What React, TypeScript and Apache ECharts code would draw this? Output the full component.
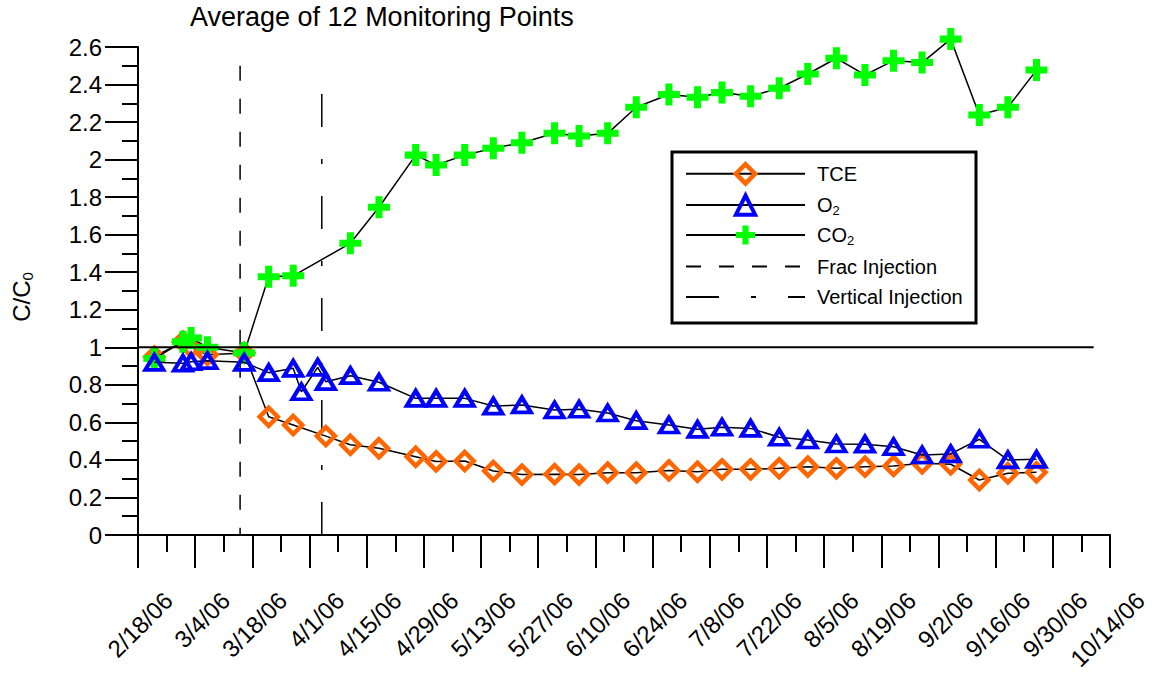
import React, { useEffect, useRef } from "react";
import * as echarts from "echarts";

// ---------- data ----------
const TCE_DATES = ["2/22/06","3/1/06","3/3/06","3/7/06","3/16/06","3/22/06","3/28/06","4/5/06","4/11/06","4/18/06","4/27/06","5/2/06","5/9/06","5/16/06","5/23/06","5/31/06","6/6/06","6/13/06","6/20/06","6/28/06","7/5/06","7/11/06","7/18/06","7/25/06","8/1/06","8/8/06","8/15/06","8/22/06","8/29/06","9/5/06","9/12/06","9/19/06","9/26/06"];
const TCE_VALUES = [0.95,1.03,1.0,0.96,0.97,0.63,0.586,0.527,0.481,0.462,0.417,0.392,0.394,0.341,0.322,0.324,0.322,0.332,0.332,0.344,0.337,0.35,0.35,0.355,0.364,0.355,0.364,0.368,0.382,0.377,0.293,0.329,0.334];

const O2_DATES = ["2/22/06","3/1/06","3/3/06","3/7/06","3/16/06","3/22/06","3/28/06","3/30/06","4/3/06","4/5/06","4/11/06","4/18/06","4/27/06","5/2/06","5/9/06","5/16/06","5/23/06","5/31/06","6/6/06","6/13/06","6/20/06","6/28/06","7/5/06","7/11/06","7/18/06","7/25/06","8/1/06","8/8/06","8/15/06","8/22/06","8/29/06","9/5/06","9/12/06","9/19/06","9/26/06"];
const O2_VALUES = [0.92,0.915,0.923,0.929,0.92,0.865,0.888,0.763,0.893,0.817,0.849,0.814,0.728,0.728,0.728,0.687,0.693,0.666,0.67,0.65,0.609,0.586,0.563,0.574,0.568,0.521,0.506,0.485,0.484,0.47,0.426,0.432,0.51,0.4,0.403];

const CO2_DATES = ["2/22/06","3/1/06","3/3/06","3/7/06","3/16/06","3/22/06","3/28/06","4/11/06","4/18/06","4/27/06","5/2/06","5/9/06","5/16/06","5/23/06","5/31/06","6/6/06","6/13/06","6/20/06","6/28/06","7/5/06","7/11/06","7/18/06","7/25/06","8/1/06","8/8/06","8/15/06","8/22/06","8/29/06","9/5/06","9/12/06","9/19/06","9/26/06"];
const CO2_VALUES = [0.94,1.03,1.05,1.0,0.97,1.376,1.381,1.554,1.746,2.024,1.971,2.024,2.06,2.09,2.14,2.126,2.14,2.279,2.347,2.332,2.357,2.338,2.38,2.456,2.54,2.451,2.527,2.517,2.642,2.238,2.279,2.477];

const FRAC_DATE = "3/15/06";
const FRAC_RANGE = [2.5, 0];
const VERT_DATE = "4/4/06";
const VERT_RANGE = [2.35, 0];
const REF_DATES = ["2/18/06", "10/10/06"];
const REF_VALUE = 1;

const X_START = "2/18/06";
const X_END = "10/14/06";
const X_STEP_DAYS = 14;
const Y_MIN = 0;
const Y_MAX = 2.6;
const Y_STEP = 0.2;

const TITLE = "Average of 12 Monitoring Points";
const LEGEND_NAMES = ["TCE", "O2", "CO2", "Frac Injection", "Vertical Injection"];

// ---------- helpers ----------
const parse = (s: string) => {
  const [m, d, y] = s.split("/").map(Number);
  return Date.UTC(2000 + y, m - 1, d);
};
const BASE = parse(X_START);
const toDay = (s: string) => Math.round((parse(s) - BASE) / 86400000);
const dayLabel = (v: number) => {
  const dt = new Date(BASE + Math.round(v) * 86400000);
  return `${dt.getUTCMonth() + 1}/${dt.getUTCDate()}/${String(dt.getUTCFullYear()).slice(2)}`;
};
const pairs = (dates: string[], vals: number[]) => dates.map((d, i) => [toDay(d), vals[i]]);

const FONT = "'Liberation Sans', Arial, sans-serif";
const PLUS = "path://M6.8,0H13.2V6.8H20V13.2H13.2V20H6.8V13.2H0V6.8H6.8Z";

// legend layout (box and row centres)
const LEGEND_BOX = { x: 672, y: 152, w: 304, h: 171 };
const LEGEND_ROW_Y = [174, 205.5, 237, 268.5, 299];
const LEGEND_ITEM_H = 24;

export default function App() {
  const ref = useRef<HTMLDivElement>(null);
  useEffect(() => {
    if (!ref.current) return;
    const chart = echarts.init(ref.current, null, { renderer: "svg" });
    const blackLine = { color: "#000", width: 1.5 };
    const legendFormatter = (name: string) => {
      if (name === "O2") return "{t|O}{s|2}";
      if (name === "CO2") return "{t|CO}{s|2}";
      return `{t|${name}}`;
    };
    const legends = LEGEND_NAMES.map((name, i) => ({
      data: [name],
      orient: "vertical",
      left: LEGEND_BOX.x + 13,
      top: LEGEND_ROW_Y[i] - LEGEND_ITEM_H / 2,
      itemWidth: 119,
      itemHeight: LEGEND_ITEM_H,
      padding: 0,
      selectedMode: false,
      itemStyle: { borderWidth: "inherit" },
      formatter: legendFormatter,
      textStyle: {
        fontFamily: FONT,
        color: "#000",
        padding: [0, 0, 0, 7],
        rich: {
          t: { fontFamily: FONT, fontSize: 20, lineHeight: 24, color: "#000" },
          s: { fontFamily: FONT, fontSize: 13, lineHeight: 11, verticalAlign: "bottom", color: "#000" },
        },
      },
    }));
    chart.setOption({
      animation: false,
      backgroundColor: "#fff",
      textStyle: { fontFamily: FONT, color: "#000" },
      title: {
        text: TITLE,
        left: 190,
        top: 3,
        padding: 0,
        textStyle: { fontFamily: FONT, fontSize: 27, fontWeight: "normal", color: "#000" },
      },
      grid: { left: 138, right: 49, top: 47, bottom: 139, containLabel: false, outerBoundsMode: "none" },
      graphic: [
        {
          type: "rect",
          z: 3,
          shape: { x: LEGEND_BOX.x, y: LEGEND_BOX.y, width: LEGEND_BOX.w, height: LEGEND_BOX.h },
          style: { fill: "#fff", stroke: "#000", lineWidth: 3 },
        },
      ],
      legend: legends,
      xAxis: {
        type: "value",
        min: 0,
        max: toDay(X_END),
        interval: X_STEP_DAYS,
        splitLine: { show: false },
        axisLine: { show: true, onZero: false, lineStyle: { color: "#000", width: 2 } },
        axisTick: { show: true, length: 33, lineStyle: { color: "#000", width: 2 } },
        minorTick: { show: true, splitNumber: 2, length: 17, lineStyle: { color: "#000", width: 2 } },
        minorSplitLine: { show: false },
        axisLabel: {
          rotate: 45,
          margin: 14,
          align: "right",
          verticalAlign: "top",
          padding: [43, 12, 0, 0],
          fontFamily: FONT,
          fontSize: 24,
          color: "#000",
          formatter: (v: number) => dayLabel(v),
        },
      },
      yAxis: {
        type: "value",
        min: Y_MIN,
        max: Y_MAX,
        interval: Y_STEP,
        name: "{a|C/C}{s|0}",
        nameLocation: "middle",
        nameGap: 103,
        nameRotate: 90,
        nameTextStyle: {
          padding: [0, 12, 0, 0],
          rich: {
            a: { fontFamily: FONT, fontSize: 24, lineHeight: 28, color: "#000" },
            s: { fontFamily: FONT, fontSize: 15, lineHeight: 13, verticalAlign: "bottom", color: "#000" },
          },
        },
        splitLine: { show: false },
        axisLine: { show: true, onZero: false, lineStyle: { color: "#000", width: 2 } },
        axisTick: { show: true, length: 33, lineStyle: { color: "#000", width: 2 } },
        minorTick: { show: true, splitNumber: 2, length: 16, lineStyle: { color: "#000", width: 2 } },
        minorSplitLine: { show: false },
        axisLabel: {
          margin: 36,
          fontFamily: FONT,
          fontSize: 24,
          color: "#000",
          formatter: (v: number) => String(Math.round(v * 10) / 10),
        },
      },
      series: [
        {
          name: "Frac Injection",
          type: "line",
          z: 1,
          symbol: "circle",
          showSymbol: false,
          data: FRAC_RANGE.map((v) => [toDay(FRAC_DATE), v]),
          lineStyle: { color: "#000", width: 1.5, type: [15, 18] },
          itemStyle: { color: "rgba(0,0,0,0)", borderWidth: 0 },
        },
        {
          name: "Vertical Injection",
          type: "line",
          z: 1,
          symbol: "circle",
          showSymbol: false,
          data: VERT_RANGE.map((v) => [toDay(VERT_DATE), v]),
          lineStyle: { color: "#000", width: 1.5, type: [33, 32, 5, 32] },
          itemStyle: { color: "rgba(0,0,0,0)", borderWidth: 0 },
        },
        {
          name: "TCE",
          type: "line",
          z: 2,
          symbol: "diamond",
          symbolSize: 18,
          data: pairs(TCE_DATES, TCE_VALUES),
          lineStyle: blackLine,
          itemStyle: { color: "rgba(255,255,255,0)", borderColor: "#FF6600", borderWidth: 4.5 },
        },
        {
          name: "CO2",
          type: "line",
          z: 3,
          clip: false,
          symbol: PLUS,
          symbolSize: 22,
          data: pairs(CO2_DATES, CO2_VALUES),
          lineStyle: blackLine,
          itemStyle: { color: "#00FF00", borderWidth: 0 },
        },
        {
          name: "O2",
          type: "line",
          z: 4,
          symbol: "triangle",
          symbolSize: [18, 15],
          data: pairs(O2_DATES, O2_VALUES),
          lineStyle: blackLine,
          itemStyle: { color: "rgba(255,255,255,0)", borderColor: "#0000FF", borderWidth: 4 },
        },
        {
          name: "ref",
          type: "line",
          z: 5,
          symbol: "none",
          data: REF_DATES.map((d) => [toDay(d), REF_VALUE]),
          lineStyle: { color: "#000", width: 2 },
        },
      ],
    });
    return () => chart.dispose();
  }, []);
  return (
    <div
      ref={ref}
      style={{ position: "fixed", left: 0, top: 0, width: 1159, height: 674, background: "#fff" }}
    />
  );
}
